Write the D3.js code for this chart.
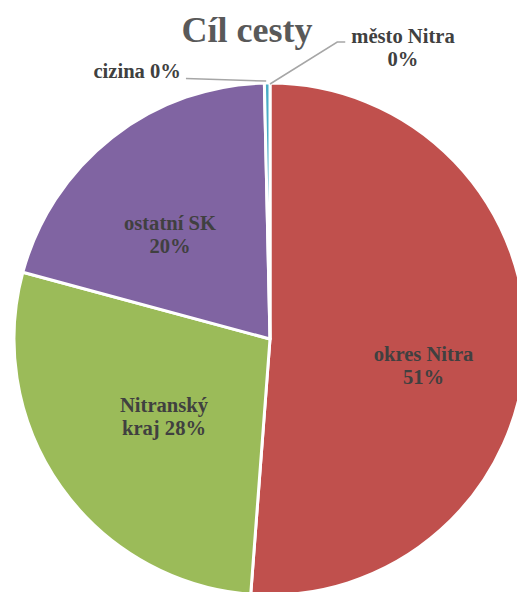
<!DOCTYPE html>
<html>
<head>
<meta charset="utf-8">
<script src="https://cdn.jsdelivr.net/npm/d3@7"></script>
<style>
  html, body { margin: 0; padding: 0; background: #ffffff; }
  svg { display: block; }
  text { font-family: "Liberation Serif", "Times New Roman", serif; font-weight: bold; }
</style>
</head>
<body>
<svg id="chart" width="517" height="592"></svg>
<script>
// ---- data ----
const title = "Cíl cesty";
const categories = ["město Nitra", "okres Nitra", "Nitranský kraj", "ostatní SK", "cizina"];
const values = [0.0, 51.2, 28.0, 20.45, 0.35];           // percent shares
const colors = ["#4F81BD", "#C0504D", "#9BBB59", "#8064A2", "#4BACC6"];

// ---- layout / style ----
const W = 517, H = 592;
const cx = 270, cy = 339, R = 256;
const labelK = 0.6;
const lineH = 23;
const fontSize = 20.6;
// label placement: "inside" uses centroid + nudge; "outside" uses outer point + offset with leader line
const labelMode = ["outside", "inside", "inside", "inside", "outside"];
const labelNudge = [[133, -35.5], [0, 21], [19.4, -11.2], [-5.3, 16.4], [-130, -12]];
const wrapMode = ["namePct", "namePct", "splitFirst", "namePct", "oneLine"];

const svg = d3.select("#chart");
const g = svg.append("g").attr("transform", `translate(${cx},${cy})`);

const data = categories.map((c, i) => ({ name: c, value: values[i], color: colors[i], i }));
const pie = d3.pie().sort(null).value(d => d.value).startAngle(0).endAngle(2 * Math.PI);
const arcs = pie(data);
const arc = d3.arc().innerRadius(0).outerRadius(R);

g.selectAll("path.slice")
  .data(arcs)
  .join("path")
  .attr("class", "slice")
  .attr("d", arc)
  .attr("fill", d => d.data.color)
  .attr("stroke", "#ffffff")
  .attr("stroke-width", 3)
  .attr("stroke-linejoin", "round");

const fmt = v => Math.round(v) + "%";
function linesFor(d) {
  const name = d.data.name, p = fmt(d.data.value), m = wrapMode[d.data.i];
  if (m === "oneLine") return [name + " " + p];
  if (m === "splitFirst") {
    const w = name.split(" ");
    return [w[0], w.slice(1).join(" ") + " " + p];
  }
  return [name, p];
}

function polar(a, r) { return [r * Math.sin(a), -r * Math.cos(a)]; }

arcs.forEach(d => {
  const i = d.data.i;
  const mid = (d.startAngle + d.endAngle) / 2;
  const lines = linesFor(d);
  let px, py;
  if (labelMode[i] === "inside") {
    const c = polar(mid, R * labelK);
    px = c[0] + labelNudge[i][0];
    py = c[1] + labelNudge[i][1];
  } else {
    const o = polar(mid, R);
    px = o[0] + labelNudge[i][0];
    py = o[1] + labelNudge[i][1];
  }
  const t = g.append("text")
    .attr("text-anchor", "middle")
    .attr("font-size", fontSize)
    .attr("fill", "#404040");
  const first = py - (lines.length - 1) * lineH / 2 + 7;
  lines.forEach((l, k) => {
    t.append("tspan").attr("x", px).attr("y", first + k * lineH).text(l);
  });

  if (labelMode[i] === "outside") {
    const o = polar(mid, R + 1);
    const bb = t.node().getBBox();
    let pts;
    if (px > o[0]) {
      const ex = bb.x - 6, ey = first - 1;
      pts = [[o[0], o[1] + 2], [ex - 8, ey], [ex, ey]];
    } else {
      const ex = bb.x + bb.width + 5, ey = first + 0.5;
      pts = [[ex, ey], [o[0] - 1, o[1] - 1]];
    }
    g.append("path")
      .attr("d", d3.line()(pts))
      .attr("fill", "none")
      .attr("stroke", "#A6A6A6")
      .attr("stroke-width", 1.5);
  }
});

svg.append("text")
  .attr("x", 247)
  .attr("y", 42)
  .attr("text-anchor", "middle")
  .attr("font-size", 36)
  .attr("fill", "#595959")
  .text(title);
</script>
</body>
</html>
